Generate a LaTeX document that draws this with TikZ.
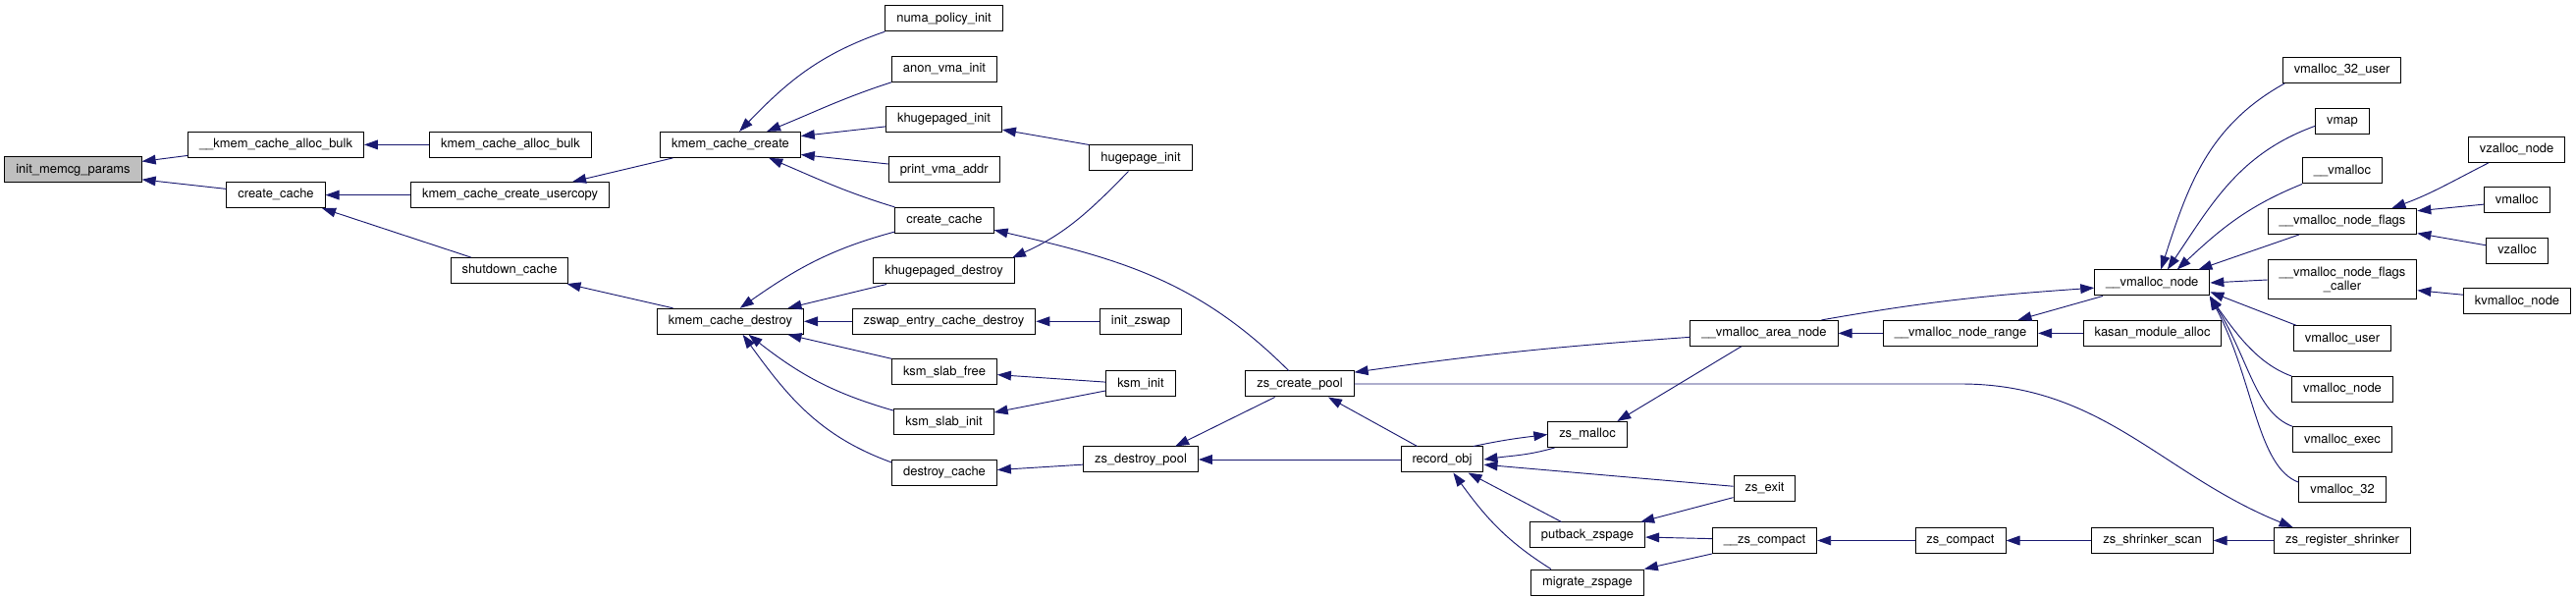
\documentclass[tikz,border=0pt]{standalone}
\usepackage{fontspec}
\setmainfont{TeX Gyre Heros}
\usetikzlibrary{arrows.meta}
\definecolor{edgeblue}{RGB}{25,25,112}
\definecolor{rootgray}{RGB}{191,191,191}
\begin{document}
\begin{tikzpicture}[x=0.75pt,y=0.75pt,
	fnbox/.style={draw=black,line width=0.75pt,fill=white,rectangle,minimum height=19.5pt,inner xsep=8.6pt,inner ysep=0pt,font=\fontsize{9.7}{10.9}\selectfont},
	fn/.style={fnbox,text height=7pt,text depth=2pt},
	callarrow/.style={draw=edgeblue,line width=0.7pt,<-,>={Triangle[length=10.5pt,width=7.3pt]}}]
	\useasboundingbox (0,0) rectangle (2624,607);
	% functions, column by column
	\node[fn,fill=rootgray] (initmemcg) at (74.5,434) {init\_memcg\_params};
	\node[fn] (kabulkint) at (281,459.6) {\_\_kmem\_cache\_alloc\_bulk};
	\node[fn] (ccone) at (281,408.4) {create\_cache};
	\node[fn] (kabulk) at (520,459.6) {kmem\_cache\_alloc\_bulk};
	\node[fn] (usercopy) at (519.6,408.4) {kmem\_cache\_create\_usercopy};
	\node[fn] (shutdown) at (519,331.4) {shutdown\_cache};
	\node[fn] (kccreate) at (744,459.6) {kmem\_cache\_create};
	\node[fn] (kcdestroy) at (744,279.7) {kmem\_cache\_destroy};
	\node[fn] (numa) at (961.5,588.3) {numa\_policy\_init};
	\node[fn] (anonvma) at (962,536.7) {anon\_vma\_init};
	\node[fn] (khinit) at (961.5,485.4) {khugepaged\_init};
	\node[fn] (printvma) at (961.7,434) {print\_vma\_addr};
	\node[fn] (cctwo) at (962,382.6) {create\_cache};
	\node[fn] (khdestroy) at (961.5,331) {khugepaged\_destroy};
	\node[fn] (zswapecd) at (961.5,279.7) {zswap\_entry\_cache\_destroy};
	\node[fn] (ksmfree) at (962,228.2) {ksm\_slab\_free};
	\node[fn] (ksmslabinit) at (961.5,177) {ksm\_slab\_init};
	\node[fn] (destroycache) at (962,125.6) {destroy\_cache};
	\node[fn] (hugepage) at (1162,446) {hugepage\_init};
	\node[fn] (initzswap) at (1162,279.7) {init\_zswap};
	\node[fn] (ksminit) at (1162,216) {ksm\_init};
	\node[fn] (zsdestroy) at (1162,139) {zs\_destroy\_pool};
	\node[fn] (zscreate) at (1324,216) {zs\_create\_pool};
	\node[fn] (recordobj) at (1469,139) {record\_obj};
	\node[fn] (zsmalloc) at (1617,164.5) {zs\_malloc};
	\node[fn] (putback) at (1617,62) {putback\_zspage};
	\node[fn] (migrate) at (1617,14) {migrate\_zspage};
	\node[fn] (vmareanode) at (1797,267.6) {\_\_vmalloc\_area\_node};
	\node[fn] (zsexit) at (1797.5,109.5) {zs\_exit};
	\node[fn] (zscompactint) at (1797.5,56.5) {\_\_zs\_compact};
	\node[fn] (vmnoderange) at (1997,267.6) {\_\_vmalloc\_node\_range};
	\node[fn] (zscompact) at (1997,56.5) {zs\_compact};
	\node[fn] (vmnode) at (2192.3,319) {\_\_vmalloc\_node};
	\node[fn] (kasan) at (2192.5,267.6) {kasan\_module\_alloc};
	\node[fn] (zsshrink) at (2192.5,56.5) {zs\_shrinker\_scan};
	\node[fn] (vm32user) at (2385.6,535.5) {vmalloc\_32\_user};
	\node[fn] (vmap) at (2386,483.6) {vmap};
	\node[fn] (vmallocint) at (2386,433) {\_\_vmalloc};
	\node[fn] (vmflags) at (2386,381.5) {\_\_vmalloc\_node\_flags};
	\node[fnbox,align=center,minimum height=30pt] (vmcaller) at (2386,322) {\_\_vmalloc\_node\_flags\\\_caller};
	\node[fn] (vmuser) at (2386,262.2) {vmalloc\_user};
	\node[fn] (vmallocnode) at (2386,210.5) {vmalloc\_node};
	\node[fn] (vmexec) at (2386,159.2) {vmalloc\_exec};
	\node[fn] (vm32) at (2386,108) {vmalloc\_32};
	\node[fn] (zsreg) at (2386,56.5) {zs\_register\_shrinker};
	\node[fn] (vzallocnode) at (2563.6,454.5) {vzalloc\_node};
	\node[fn] (vmalloc) at (2563.7,403) {vmalloc};
	\node[fn] (vzalloc) at (2564,351.6) {vzalloc};
	\node[fn] (kvmallocnode) at (2564,300) {kvmalloc\_node};
	% callers
	\draw[callarrow] (initmemcg.7) -- (kabulkint.187);
	\draw[callarrow] (initmemcg.-8) -- (ccone.173);
	\draw[callarrow] (kabulkint.east) -- (kabulk.west);
	\draw[callarrow] (ccone.east) -- (usercopy.west);
	\draw[callarrow] (ccone.-16) -- (shutdown.161);
	\draw[callarrow] (usercopy.12) -- (kccreate.193);
	\draw[callarrow] (shutdown.-13) -- (kcdestroy.167);
	\draw[callarrow] (kccreate.56) to[out=46,in=199] (numa.south west);
	\draw[callarrow] (kccreate.20) to[out=22,in=198] (anonvma.south west);
	\draw[callarrow] (kccreate.7) -- (khinit.187);
	\draw[callarrow] (kccreate.-8) -- (printvma.174);
	\draw[callarrow] (kccreate.-19) to[out=-23,in=163] (cctwo.north west);
	\draw[callarrow] (khinit.-10) -- (hugepage.north west);
	\draw[callarrow] (khdestroy.11) to[out=24,in=226] (hugepage.227);
	\draw[callarrow] (kcdestroy.54) to[out=35,in=195] (cctwo.193);
	\draw[callarrow] (kcdestroy.13) -- (khdestroy.193);
	\draw[callarrow] (kcdestroy.east) -- (zswapecd.west);
	\draw[callarrow] (kcdestroy.-13) -- (ksmfree.north west);
	\draw[callarrow] (kcdestroy.-36) to[out=-38,in=164] (ksmslabinit.167);
	\draw[callarrow] (kcdestroy.-47) to[out=-54,in=160] (destroycache.169);
	\draw[callarrow] (zswapecd.east) -- (initzswap.west);
	\draw[callarrow] (ksmfree.-3) -- (ksminit.177);
	\draw[callarrow] (ksmslabinit.11) -- (ksminit.191);
	\draw[callarrow] (destroycache.3) -- (zsdestroy.185);
	\draw[callarrow] (cctwo.-11) to[out=-13,in=135] (zscreate.130);
	\draw[callarrow] (zsdestroy.21) -- (zscreate.208);
	\draw[callarrow] (zsdestroy.east) -- (recordobj.west);
	\draw[callarrow] (zscreate.12) to[out=8,in=184] (vmareanode.183);
	\draw[callarrow] (zsreg.165) to[out=158,in=0] (zscreate.east -| vmnoderange) -- (zscreate.east);
	\draw[callarrow] (zscreate.-25) -- (recordobj.152);
	\draw[callarrow] (recordobj.east) to[out=8,in=196] (zsmalloc.202);
	\draw[callarrow] (zsmalloc.west) to[out=187,in=12] (recordobj.23);
	\draw[callarrow] (recordobj.-7) -- (zsexit.176);
	\draw[callarrow] (recordobj.-27) -- (putback.153);
	\draw[callarrow] (recordobj.-50) to[out=-54,in=148] (migrate.160);
	\draw[callarrow] (zsmalloc.24) -- (vmareanode.210);
	\draw[callarrow] (putback.14) -- (zsexit.196);
	\draw[callarrow] (putback.-2) -- (zscompactint.178);
	\draw[callarrow] (migrate.north east) -- (zscompactint.south west);
	\draw[callarrow] (zscompactint.east) -- (zscompact.west);
	\draw[callarrow] (zscompact.east) -- (zsshrink.west);
	\draw[callarrow] (zsshrink.east) -- (zsreg.west);
	\draw[callarrow] (vmareanode.east) -- (vmnoderange.west);
	\draw[callarrow] (vmnoderange.east) -- (kasan.west);
	\draw[callarrow] (vmnoderange.13) -- (vmnode.195);
	\draw[callarrow] (vmnode.185) to[out=184,in=10] (vmareanode.13);
	\draw[callarrow] (vmnode.57) to[out=72,in=209] (vm32user.193);
	\draw[callarrow] (vmnode.41) to[out=56,in=200] (vmap.190);
	\draw[callarrow] (vmnode.28) to[out=43,in=202] (vmallocint.south west);
	\draw[callarrow] (vmnode.16) -- (vmflags.197);
	\draw[callarrow] (vmnode.east) -- (vmcaller.west);
	\draw[callarrow] (vmnode.-9) -- (vmuser.164);
	\draw[callarrow] (vmnode.-13) .. controls +(-55:50) and +(160:35) .. (vmallocnode.north west);
	\draw[callarrow] (vmnode.-13) .. controls +(-58:75) and +(160:40) .. (vmexec.north west);
	\draw[callarrow] (vmnode.-13) .. controls +(-62:95) and +(160:45) .. (vm32.170);
	\draw[callarrow] (vmflags.15) to[out=20,in=207] (vzallocnode.205);
	\draw[callarrow] (vmflags.8) -- (vmalloc.187);
	\draw[callarrow] (vmflags.-9) -- (vzalloc.170);
	\draw[callarrow] (vmcaller.-8) -- (kvmallocnode.173);
\end{tikzpicture}
\end{document}
